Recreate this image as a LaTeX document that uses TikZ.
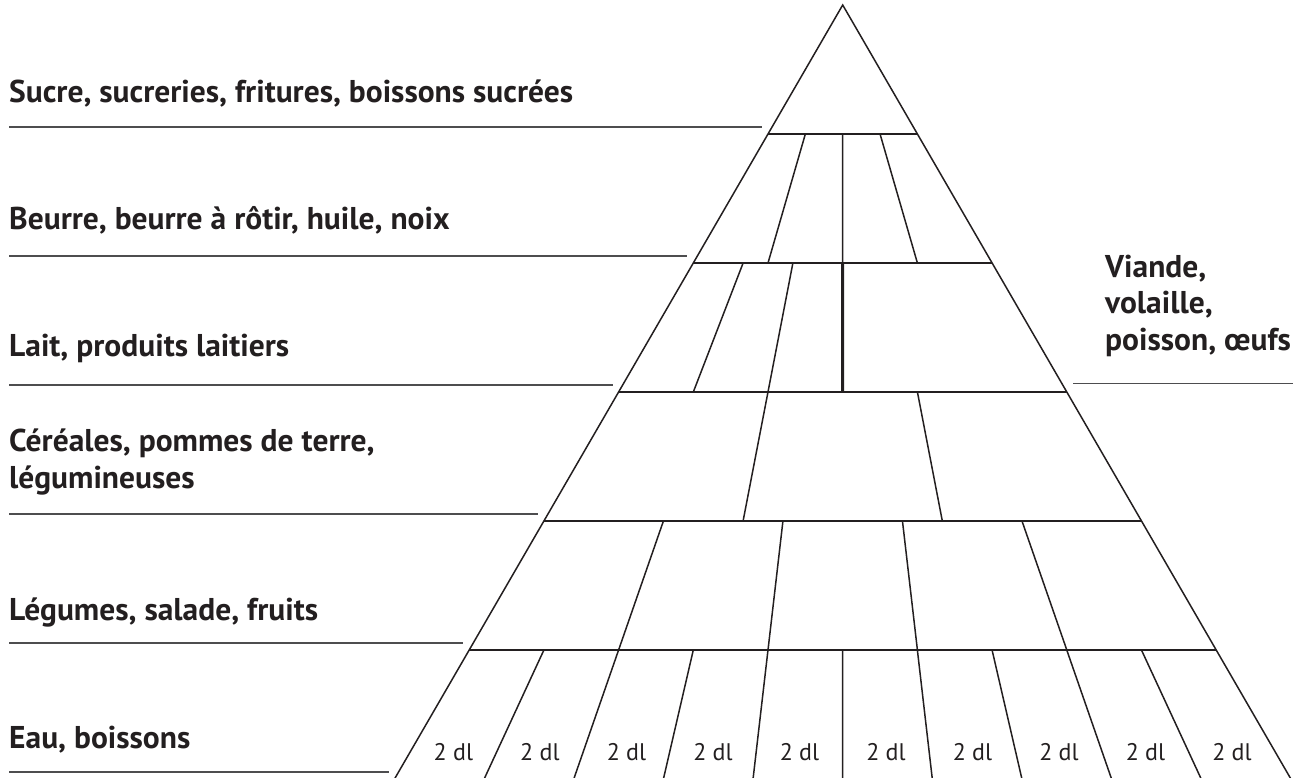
\documentclass[tikz,border=0pt]{standalone}
\usepackage{fontspec}
\setmainfont{PT Sans}
\usetikzlibrary{calc}
\definecolor{ink}{HTML}{231F20}
\definecolor{rule}{HTML}{4D4D4F}

\begin{document}
\begin{tikzpicture}[x=1pt, y=-1pt,
    pyr/.style={draw=ink, line width=1.5pt},
    thickpyr/.style={draw=ink, line width=3pt},
    underline/.style={draw=rule, line width=1.5pt},
    grouplabel/.style={text=ink, font=\bfseries\fontsize{31.5}{36.4}\selectfont, inner sep=0pt, align=left},
    portion/.style={text=ink, font=\fontsize{24}{28}\selectfont, inner sep=0pt}]
    \useasboundingbox (0,0) rectangle (1307,778);

    \coordinate (apex) at (842.7,5);
    \foreach \k in {0,...,6} {
        \coordinate (L\k) at ({842.7-74.7*\k},{5+129*\k});
        \coordinate (R\k) at ({842.7+74.7*\k},{5+129*\k});
    }

    \draw[pyr] (L6) -- (apex) -- (R6);
    \foreach \k in {1,...,5}
        \draw[pyr] (L\k) -- (R\k);

    \foreach \f in {0.25,0.5,0.75}
        \draw[pyr] ($(L1)!\f!(R1)$) -- ($(L2)!\f!(R2)$);
    \foreach \f in {0.1667,0.3333}
        \draw[pyr] ($(L2)!\f!(R2)$) -- ($(L3)!\f!(R3)$);
    \draw[thickpyr] ($(L2)!0.5!(R2)$) -- ($(L3)!0.5!(R3)$);
    \foreach \f in {0.3333,0.6667}
        \draw[pyr] ($(L3)!\f!(R3)$) -- ($(L4)!\f!(R4)$);
    \foreach \f in {0.2,0.4,0.6,0.8}
        \draw[pyr] ($(L4)!\f!(R4)$) -- ($(L5)!\f!(R5)$);
    \foreach \f in {0.1,0.2,...,0.9}
        \draw[pyr] ($(L5)!\f!(R5)$) -- ($(L6)!\f!(R6)$);

    \foreach \i in {0,...,9}
        \node (dl\i) [portion, anchor=base] at ({842.7+((\i+0.5)/5-1)*432.5},760.5) {2 dl};

    \node (sucre) [grouplabel, anchor=base west] at (9,102.3) {Sucre, sucreries, fritures, boissons sucrées};
    \node (beurre) [grouplabel, anchor=base west] at (9,230) {Beurre, beurre à rôtir, huile, noix};
    \node (lait) [grouplabel, anchor=base west] at (9,356.7) {Lait, produits laitiers};
    \node (cereales) [grouplabel, anchor=base west] at (9,488.3) {Céréales, pommes de terre,\\légumineuses};
    \node (legumes) [grouplabel, anchor=base west] at (9,620) {Légumes, salade, fruits};
    \node (eau) [grouplabel, anchor=base west] at (9,748.3) {Eau, boissons};
    \node (viande) [grouplabel, anchor=base west] at (1105,350) {Viande,\\volaille,\\poisson, œufs};

    \foreach \k in {1,...,6}
        \draw[underline] (9,{129*\k-2}) -- ({836.75-74.7*\k},{129*\k-2});
    \draw[underline] (1073,383.5) -- (1293,383.5);
\end{tikzpicture}
\end{document}
